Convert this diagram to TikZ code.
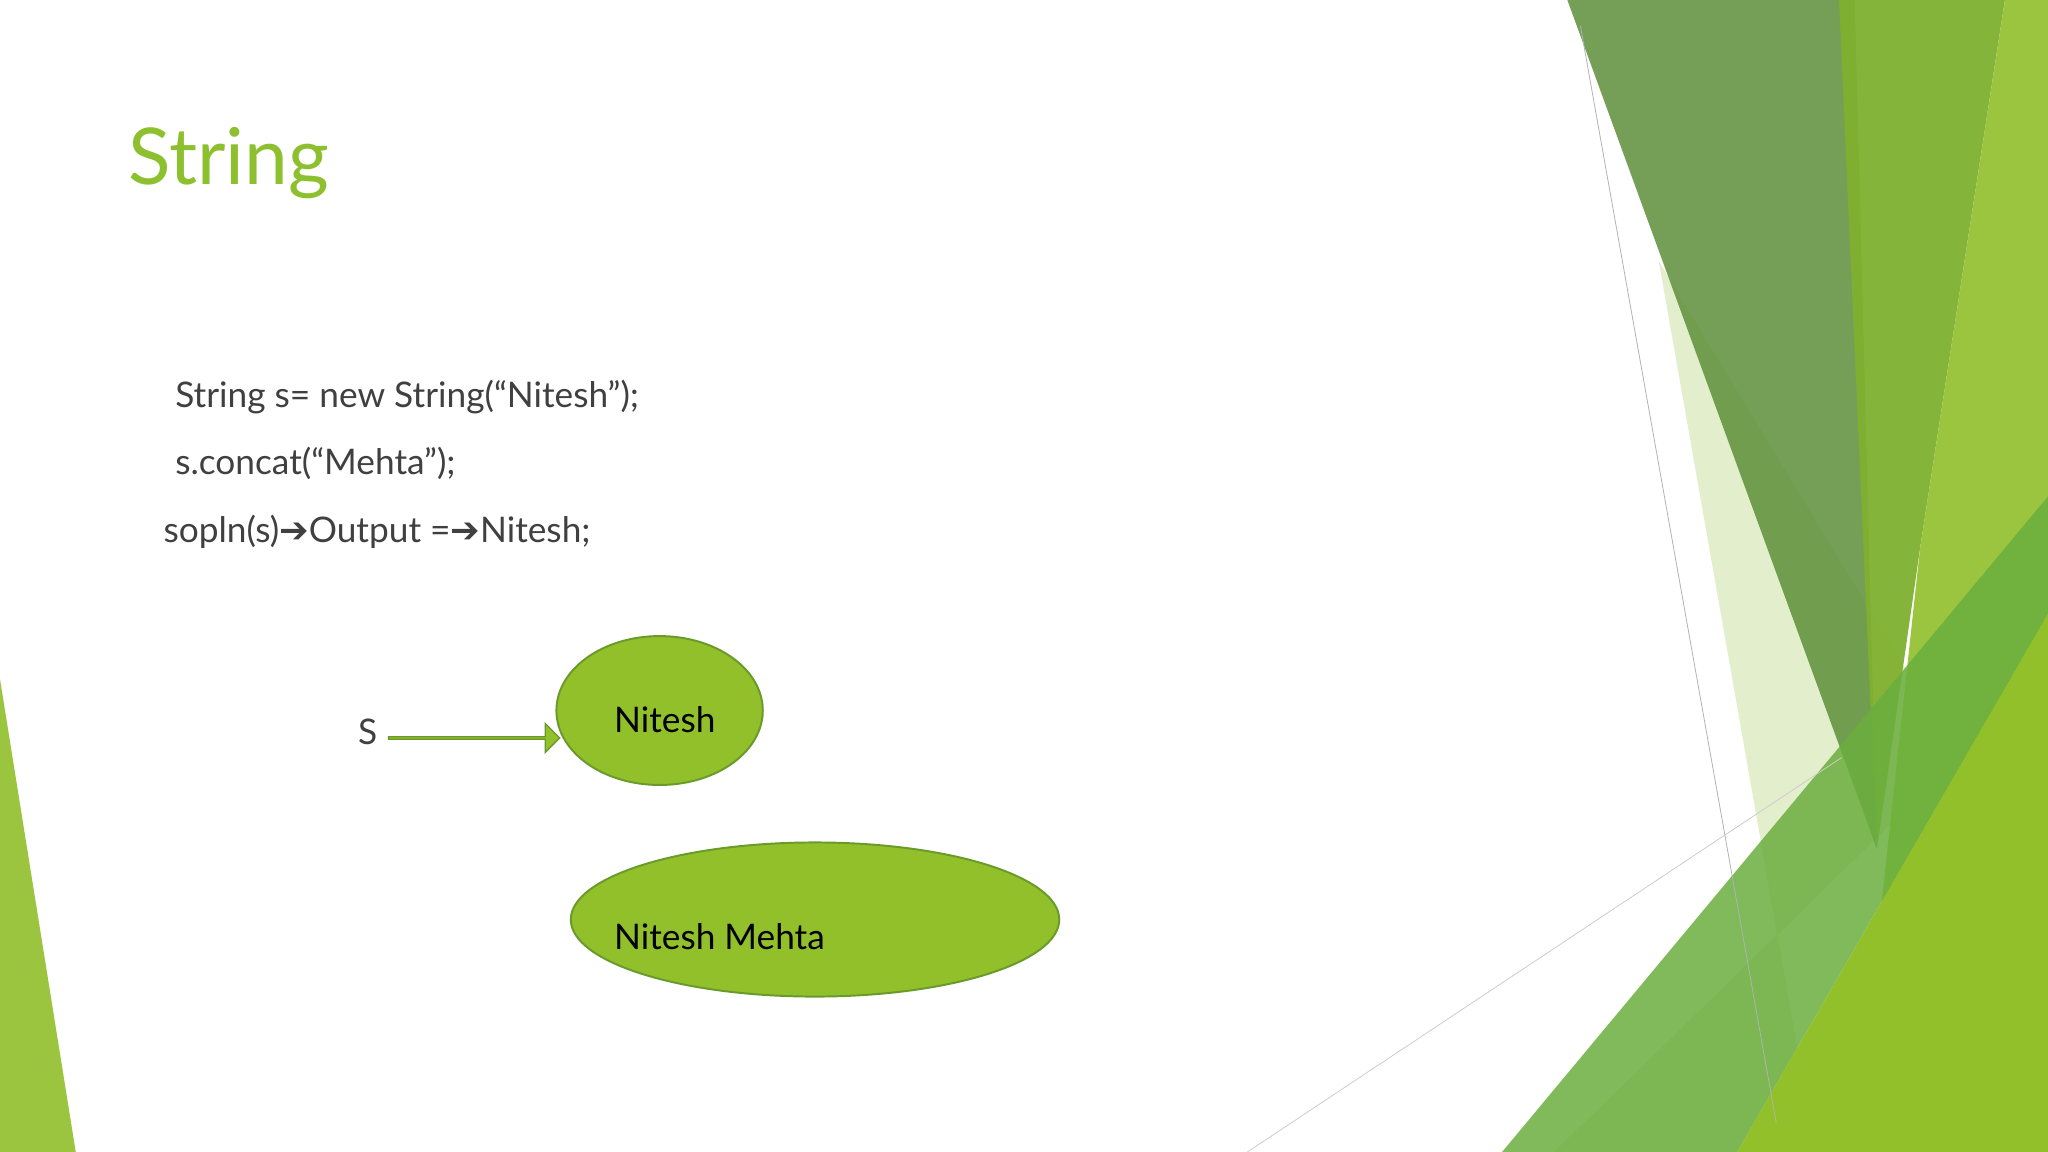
\documentclass[tikz,border=0pt]{standalone}
\usepackage{fontspec}
\setmainfont{Lato}
\newfontfamily\symf{DejaVu Sans}
\usetikzlibrary{shapes.arrows}
\definecolor{tgreen}{HTML}{8DC02F}
\definecolor{fgreen}{HTML}{92C02A}
\definecolor{bgreen}{HTML}{6A9A2A}
\definecolor{dkg}{HTML}{5E8F3A}
\definecolor{mdg}{HTML}{7FB030}
\definecolor{ltg}{HTML}{9BC53F}
\definecolor{plg}{HTML}{DDEAC0}
\definecolor{mg2}{HTML}{6AAE3E}
\definecolor{txt}{HTML}{404040}
\tikzset{
 bubble/.style={ellipse,draw=bgreen,line width=1.5pt,fill=fgreen,inner sep=0pt},
 code/.style={anchor=base west,font=\fontsize{27}{30}\selectfont,text=txt,inner sep=0pt},
}
\usetikzlibrary{shapes.geometric}
\begin{document}
\begin{tikzpicture}[x=1pt,y=-1pt]
\useasboundingbox (0,0) rectangle (1568,882);
\fill[white] (0,0) rectangle (1568,882);
% decoration
\fill[plg,opacity=0.8] (1270,200) -- (1500,580) -- (1190,882) -- (1390,882) -- cycle;
\fill[dkg,opacity=0.85] (1200,0) -- (1420,0) -- (1437,650) -- cycle;
\fill[mdg,opacity=0.95] (1408,0) -- (1535,0) -- (1470,420) -- (1437,650) -- cycle;
\fill[ltg] (1535,0) -- (1568,0) -- (1568,882) -- (1420,882) -- (1470,420) -- cycle;
\fill[mg2,opacity=0.85] (1150,882) -- (1568,380) -- (1568,470) -- (1330,882) -- cycle;
\fill[fgreen] (1330,882) -- (1568,470) -- (1568,882) -- cycle;
\draw[gray!60,line width=0.6pt] (1210,20) -- (1360,860);
\draw[gray!40,line width=0.6pt] (955,882) -- (1410,580);
\fill[ltg] (0,520) -- (58,882) -- (0,882) -- cycle;
% title
\node[anchor=base west,inner sep=0pt,text=tgreen,font=\fontsize{60}{66}\selectfont] (title) at (98,141) {String};
\node[code] (l1) at (134,312) {String s= new String(“Nitesh”);};
\node[code] (l2) at (134,363) {s.concat(“Mehta”);};
\node[code] (l3) at (125,415) {sopln(s){\symf ➔}Output ={\symf ➔}Nitesh;};
\node[code] (s) at (274,570) {S};
\node[bubble,minimum width=158pt,minimum height=114pt] (n1) at (505,544) {};
\node[anchor=base west,inner sep=0pt,font=\fontsize{27}{30}\selectfont] (t1) at (470,561) {Nitesh};
\node[bubble,minimum width=374pt,minimum height=118pt] (n2) at (624,704) {};
\node[anchor=base west,inner sep=0pt,font=\fontsize{27}{30}\selectfont] (t2) at (470,727) {Nitesh Mehta};
\node[single arrow,draw=bgreen,fill=fgreen,line width=1pt,minimum height=131pt,minimum width=22pt,single arrow head extend=5pt,inner sep=0pt,anchor=west] (arr) at (297,565) {};
\end{tikzpicture}
\end{document}
